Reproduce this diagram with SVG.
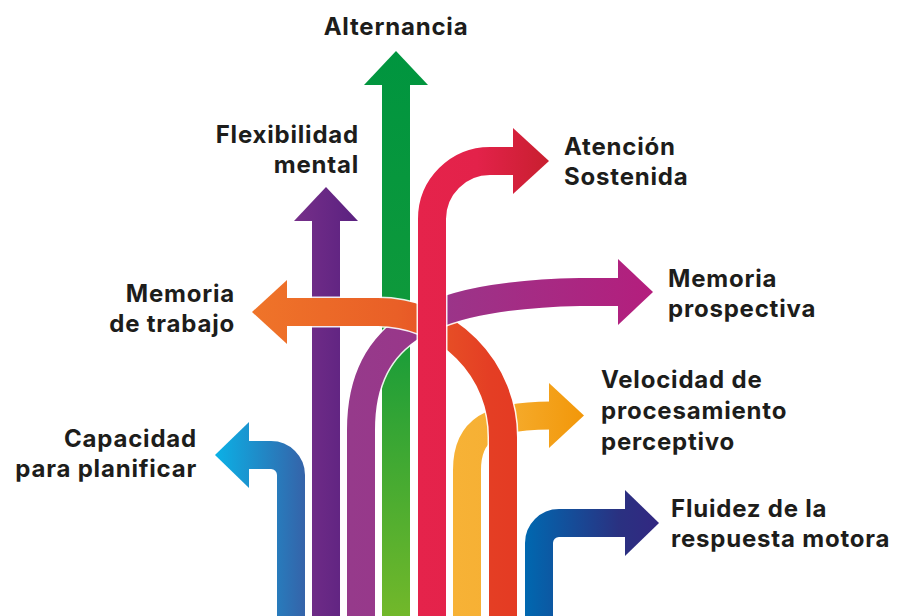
<svg xmlns="http://www.w3.org/2000/svg" width="911" height="616" viewBox="0 0 911 616">
<style>
.band{fill:none;stroke-width:28;stroke-linejoin:miter}
.edge{fill:none;stroke:#ffffff;stroke-width:31;stroke-opacity:0.9}
.lbl{font-family:Inter,"Liberation Sans",sans-serif;font-weight:700;font-size:24px;letter-spacing:0.8px;fill:#1d1d1b}
</style>
<defs>
<linearGradient id="gBlue" gradientUnits="userSpaceOnUse" x1="215" y1="0" x2="305" y2="0"><stop offset="0" stop-color="#0bb1e6"/><stop offset="1" stop-color="#3563a9"/></linearGradient>
<linearGradient id="gPurple" gradientUnits="userSpaceOnUse" x1="294" y1="0" x2="358" y2="0"><stop offset="0" stop-color="#762f89"/><stop offset="1" stop-color="#5a2180"/></linearGradient>
<linearGradient id="gGreen" gradientUnits="userSpaceOnUse" x1="0" y1="51" x2="0" y2="616"><stop offset="0" stop-color="#00953f"/><stop offset="0.45" stop-color="#0e993b"/><stop offset="1" stop-color="#72b82a"/></linearGradient>
<linearGradient id="gMagenta" gradientUnits="userSpaceOnUse" x1="350" y1="0" x2="653" y2="0"><stop offset="0" stop-color="#963a8b"/><stop offset="0.3" stop-color="#9a3589"/><stop offset="1" stop-color="#b41e7d"/></linearGradient>
<linearGradient id="gRed" gradientUnits="userSpaceOnUse" x1="418" y1="0" x2="549" y2="0"><stop offset="0" stop-color="#e5234b"/><stop offset="0.45" stop-color="#e3224a"/><stop offset="1" stop-color="#c81f2f"/></linearGradient>
<linearGradient id="gOrange" gradientUnits="userSpaceOnUse" x1="252" y1="0" x2="517" y2="0"><stop offset="0" stop-color="#ef7429"/><stop offset="0.55" stop-color="#e95f27"/><stop offset="0.9" stop-color="#e43e24"/><stop offset="1" stop-color="#e43b23"/></linearGradient>
<linearGradient id="gYellow" gradientUnits="userSpaceOnUse" x1="453" y1="0" x2="584" y2="0"><stop offset="0" stop-color="#f7b236"/><stop offset="0.3" stop-color="#f6b034"/><stop offset="1" stop-color="#f29709"/></linearGradient>
<linearGradient id="gNavy" gradientUnits="userSpaceOnUse" x1="525" y1="0" x2="659" y2="0"><stop offset="0" stop-color="#0068b0"/><stop offset="0.7" stop-color="#2a3181"/><stop offset="1" stop-color="#322781"/></linearGradient>
<clipPath id="rightOfRed"><rect x="432" y="200" width="300" height="128"/></clipPath>
</defs>

<g id="arrows">
  <g id="arrow-planificar">
    <path class="edge" d="M291,620 L291,475 A20,20 0 0 0 271,455 L251,455"/>
    <path class="band" stroke="url(#gBlue)" d="M291,620 L291,475 A20,20 0 0 0 271,455 L247,455"/>
    <polygon fill="url(#gBlue)" points="215,455 249,422 249,488"/>
  </g>
  <g id="arrow-flexibilidad">
    <path class="edge" d="M326,620 L326,223"/>
    <path class="band" stroke="url(#gPurple)" d="M326,620 L326,219"/>
    <polygon fill="url(#gPurple)" points="326,187 358,221 294,221"/>
  </g>
  <g id="arrow-alternancia">
    <path class="edge" d="M396,620 L396,87"/>
    <path class="band" stroke="url(#gGreen)" d="M396,620 L396,83"/>
    <polygon fill="url(#gGreen)" points="396,51 428,85 364,85"/>
  </g>
  <g id="arrow-prospectiva">
    <path class="edge" d="M361,620 L361,430 C361,330 430,295 580,292 L616,292"/>
    <path class="band" stroke="url(#gMagenta)" d="M361,620 L361,430 C361,330 430,295 580,292 L620,292"/>
    <polygon fill="url(#gMagenta)" points="653,292 618,259 618,325"/>
  </g>
  <g id="arrow-velocidad">
    <path class="edge" d="M467,620 L467,470 C467,430 490,415.5 549,415.5"/>
    <path class="band" stroke="url(#gYellow)" d="M467,620 L467,470 C467,430 490,415.5 551,415.5"/>
    <polygon fill="url(#gYellow)" points="584,415.5 549,383 549,448"/>
  </g>
  <g id="arrow-trabajo">
    <path class="edge" d="M503,620 L503,437 A125,125 0 0 0 378,312 L289,312"/>
    <path class="band" stroke="url(#gOrange)" d="M503,620 L503,437 A125,125 0 0 0 378,312 L285,312"/>
    <polygon fill="url(#gOrange)" points="252,312 287,280 287,344"/>
  </g>
  <g id="arrow-prospectiva-over" clip-path="url(#rightOfRed)">
    <path class="edge" d="M361,620 L361,430 C361,330 430,295 580,292 L616,292"/>
    <path class="band" stroke="url(#gMagenta)" d="M361,620 L361,430 C361,330 430,295 580,292 L620,292"/>
  </g>
  <g id="arrow-atencion">
    <path class="edge" d="M432,620 L432,219 A58,58 0 0 1 490,161 L511,161"/>
    <path class="band" stroke="url(#gRed)" d="M432,620 L432,219 A58,58 0 0 1 490,161 L515,161"/>
    <polygon fill="url(#gRed)" points="549,161 513,128 513,194"/>
  </g>
  <g id="arrow-fluidez">
    <path class="edge" d="M539,620 L539,543 A20,20 0 0 1 559,523 L623,523"/>
    <path class="band" stroke="url(#gNavy)" d="M539,620 L539,543 A20,20 0 0 1 559,523 L627,523"/>
    <polygon fill="url(#gNavy)" points="659,523 625,490 625,556"/>
  </g>
</g>

<g id="labels">
  <g id="label-alternancia"><text class="lbl" x="396" y="35" text-anchor="middle">Alternancia</text></g>
  <g id="label-flexibilidad"><text class="lbl" text-anchor="end"><tspan x="359" y="143">Flexibilidad</tspan><tspan x="359" y="173">mental</tspan></text></g>
  <g id="label-atencion"><text class="lbl"><tspan x="564" y="155">Atención</tspan><tspan x="564" y="185">Sostenida</tspan></text></g>
  <g id="label-prospectiva"><text class="lbl"><tspan x="668" y="287">Memoria</tspan><tspan x="668" y="317">prospectiva</tspan></text></g>
  <g id="label-trabajo"><text class="lbl" text-anchor="end"><tspan x="235" y="302">Memoria</tspan><tspan x="235" y="332">de trabajo</tspan></text></g>
  <g id="label-planificar"><text class="lbl" text-anchor="end"><tspan x="197" y="447">Capacidad</tspan><tspan x="197" y="477">para planificar</tspan></text></g>
  <g id="label-velocidad"><text class="lbl"><tspan x="601" y="388">Velocidad de</tspan><tspan x="601" y="419">procesamiento</tspan><tspan x="601" y="450">perceptivo</tspan></text></g>
  <g id="label-fluidez"><text class="lbl"><tspan x="671" y="517">Fluidez de la</tspan><tspan x="671" y="547">respuesta motora</tspan></text></g>
</g>
</svg>
